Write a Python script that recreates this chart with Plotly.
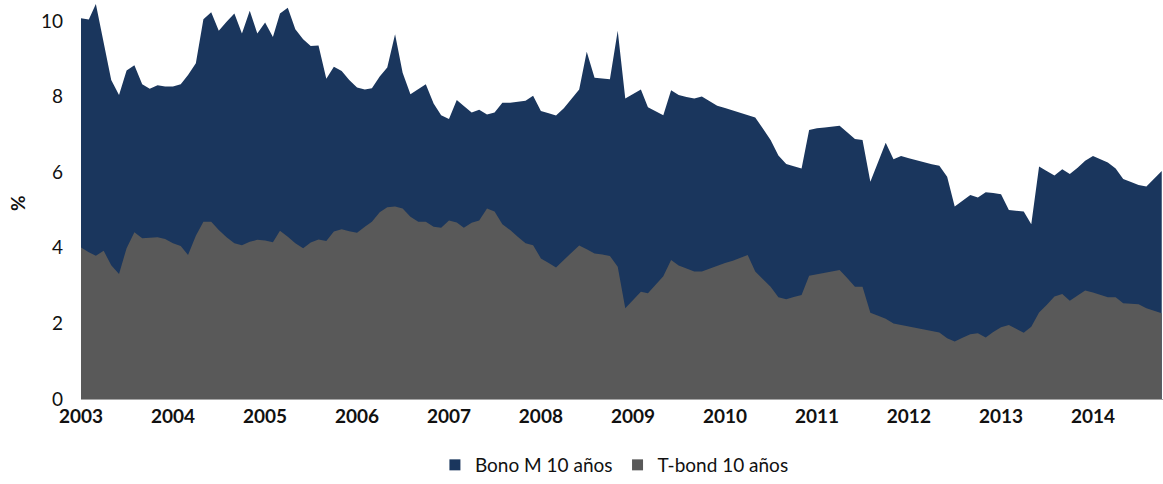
import pandas as pd
import plotly.graph_objects as go

# Monthly observations, January 2003 - October 2014
months = pd.date_range("2003-01-01", "2014-10-01", freq="MS")

# Mexican 10-year government bond (Bono M), yield in %
bono_m = [
    10.07, 10.04, 10.45, 9.38, 8.44, 8.04, 8.69, 8.83, 8.33, 8.21, 8.30, 8.27,   # 2003
    8.27, 8.33, 8.57, 8.88, 10.05, 10.23, 9.74, 9.98, 10.20, 9.67, 10.27, 9.67,  # 2004
    9.96, 9.58, 10.20, 10.35, 9.78, 9.52, 9.34, 9.35, 8.47, 8.79, 8.68, 8.44,    # 2005
    8.24, 8.19, 8.22, 8.53, 8.77, 9.65, 8.63, 8.06, 8.19, 8.33, 7.82, 7.51,      # 2006
    7.41, 7.91, 7.75, 7.58, 7.65, 7.53, 7.58, 7.84, 7.84, 7.86, 7.89, 8.02,      # 2007
    7.62, 7.56, 7.50, 7.69, 7.95, 8.19, 9.19, 8.50, 8.48, 8.46, 9.74, 7.95,      # 2008
    8.07, 8.19, 7.72, 7.61, 7.51, 8.17, 8.04, 7.99, 7.95, 8.00, 7.88, 7.76,      # 2009
    7.70, 7.64, 7.57, 7.51, 7.45, 7.15, 6.85, 6.44, 6.22, 6.16, 6.10, 7.12,      # 2010
    7.16, 7.18, 7.21, 7.23, 7.06, 6.88, 6.85, 5.75, 6.27, 6.78, 6.34, 6.43,      # 2011
    6.37, 6.31, 6.26, 6.21, 6.17, 5.88, 5.09, 5.25, 5.40, 5.33, 5.47, 5.45,      # 2012
    5.42, 5.00, 4.98, 4.96, 4.62, 6.15, 6.03, 5.91, 6.08, 5.95, 6.12, 6.30,      # 2013
    6.43, 6.35, 6.26, 6.10, 5.82, 5.74, 5.66, 5.62, 5.82, 6.03,                  # 2014
]

# US 10-year Treasury note (T-bond), yield in %
t_bond = [
    4.01, 3.88, 3.79, 3.92, 3.54, 3.31, 3.99, 4.41, 4.25, 4.27, 4.28, 4.23,      # 2003
    4.12, 4.05, 3.81, 4.32, 4.69, 4.69, 4.47, 4.28, 4.12, 4.07, 4.16, 4.21,      # 2004
    4.19, 4.15, 4.45, 4.29, 4.12, 3.99, 4.14, 4.22, 4.18, 4.43, 4.49, 4.44,      # 2005
    4.40, 4.56, 4.69, 4.94, 5.07, 5.09, 5.04, 4.82, 4.69, 4.69, 4.56, 4.53,      # 2006
    4.72, 4.67, 4.53, 4.66, 4.72, 5.04, 4.96, 4.62, 4.47, 4.29, 4.12, 4.07,      # 2007
    3.72, 3.60, 3.48, 3.68, 3.88, 4.06, 3.96, 3.85, 3.82, 3.78, 3.50, 2.40,      # 2008
    2.62, 2.84, 2.80, 3.02, 3.25, 3.68, 3.53, 3.45, 3.37, 3.37, 3.45, 3.54,      # 2009
    3.60, 3.66, 3.73, 3.81, 3.37, 3.17, 2.97, 2.69, 2.64, 2.70, 2.75, 3.26,      # 2010
    3.30, 3.34, 3.38, 3.41, 3.20, 2.97, 2.97, 2.28, 2.20, 2.12, 2.00, 1.96,      # 2011
    1.92, 1.88, 1.84, 1.80, 1.76, 1.61, 1.52, 1.62, 1.71, 1.74, 1.63, 1.77,      # 2012
    1.90, 1.96, 1.86, 1.75, 1.91, 2.29, 2.49, 2.71, 2.78, 2.60, 2.74, 2.87,      # 2013
    2.82, 2.76, 2.69, 2.69, 2.53, 2.52, 2.51, 2.40, 2.33, 2.27,                  # 2014
]

series_names = ["Bono M 10 años", "T-bond 10 años"]
series_colors = ["#1a365d", "#595959"]

year_ticks = [f"{y}-01-01" for y in range(2003, 2015)]
year_labels = [str(y) for y in range(2003, 2015)]
y_ticks = [0, 2, 4, 6, 8, 10]

FONT = "Lato, 'Open Sans', sans-serif"

fig = go.Figure()

# Overlapping areas, each filled down to zero
for name, values, color in zip(series_names, [bono_m, t_bond], series_colors):
    fig.add_trace(go.Scatter(
        x=months, y=values, mode="lines", name=name,
        line=dict(width=0, color=color),
        fill="tozeroy", fillcolor=color,
        showlegend=False, hoverinfo="x+y+name",
    ))

# Square legend keys
for name, color in zip(series_names, series_colors):
    fig.add_trace(go.Scatter(
        x=[None], y=[None], mode="markers", name=name,
        marker=dict(symbol="square", size=11, color=color),
        showlegend=True,
    ))

fig.update_layout(
    width=1163, height=484,
    margin=dict(l=81, r=0, t=0, b=85, autoexpand=False),
    paper_bgcolor="white", plot_bgcolor="white",
    font=dict(family=FONT, size=19, color="#111111"),
    showlegend=True,
    legend=dict(
        orientation="h", x=0.493, xanchor="center",
        y=-85 / 399, yanchor="bottom",
        font=dict(family=FONT, size=19, color="#111111"),
        itemwidth=30, tracegroupgap=0,
    ),
    annotations=[dict(
        text="<b>%</b>", xref="paper", yref="paper",
        x=(17 - 81) / 1082, y=(399 - 203) / 399,
        xanchor="center", yanchor="middle", textangle=-90, showarrow=False,
        font=dict(family=FONT, size=19, color="#111111"),
    )],
)

fig.update_xaxes(
    type="date", range=["2003-01-01", "2014-10-06"],
    tickmode="array", tickvals=year_ticks,
    ticktext=[f"<b>{t}</b>" for t in year_labels],
    showgrid=False, zeroline=False, ticks="",
    showline=True, linecolor="#a6a6a6", linewidth=1,
    tickfont=dict(family=FONT, size=19, color="#111111"),
)
fig.update_yaxes(
    range=[0, 10.556], tickmode="array", tickvals=y_ticks,
    ticktext=[str(v) for v in y_ticks],
    showgrid=False, zeroline=False, showline=False,
    ticks="", ticklabelstandoff=17,
    tickfont=dict(family=FONT, size=19, color="#111111"),
)

fig.write_html("out.html")
